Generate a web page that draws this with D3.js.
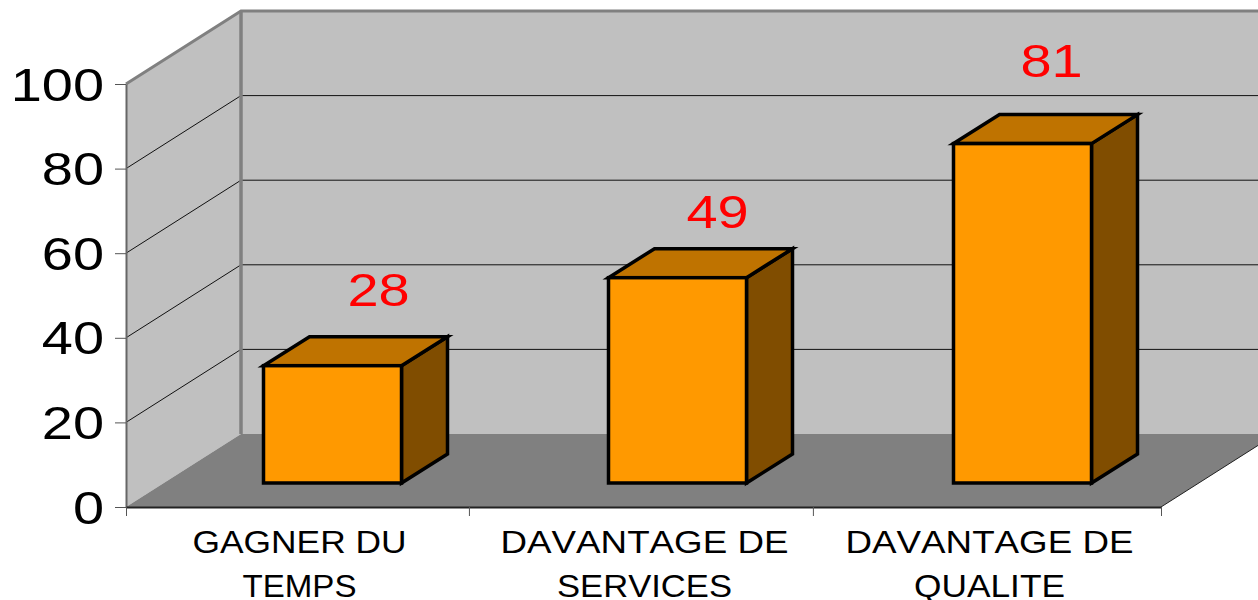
<!DOCTYPE html>
<html>
<head>
<meta charset="utf-8">
<script src="https://cdn.jsdelivr.net/npm/d3@7"></script>
<style>
    html, body { margin: 0; padding: 0; background: white; overflow: hidden; }
    svg { display: block; }
    text { font-family: "Liberation Sans", Arial, sans-serif; }
</style>
</head>
<body>
<svg id="chart"></svg>
<script>
const categories = ["GAGNER DU|TEMPS", "DAVANTAGE DE|SERVICES", "DAVANTAGE DE|QUALITE"];
const values = [28, 49, 81];
const yTicks = [0, 20, 40, 60, 80, 100];
const xEdgeTicks = [0, 0.994, 1.991, 3];

//label nudges, labels were moved by hand in the original
const labelDx = [46, 40, 29];
const labelDy = [-60, -50, -67];
//the original text is squeezed unevenly, so widths per line
const catLineWidths = [[214, 114], [288, 175], [288, 151]];

const width = 1258, height = 600;

//depth of the box (back wall offset) and of each bar
const depthX = 115, depthY = -73;
const barDepthX = 46, barDepthY = -29;

const svg = d3.select("#chart").attr("width", width).attr("height", height);

const y = d3.scaleLinear().domain([0, 100]).range([507, 84]);
const x = d3.scaleBand().domain(categories).range([126, 1161]);
const xEdges = d3.scaleLinear().domain([0, categories.length]).range([126, 1161]);
//bars stand in the middle of the floor, so they are moved back and scale a bit smaller
const yBar = d3.scaleLinear().domain([0, 100]).range([483, 64]);
const barW = x.bandwidth() * 0.4;
const barShift = 34;

const poly = pts => pts.map(p => p.join(",")).join(" ");

const x0 = x.range()[0], x1 = x.range()[1];

//side wall
svg.append("polygon")
    .attr("points", poly([[x0, y(0)], [x0, y(100)], [x0 + depthX, y(100) + depthY], [x0 + depthX, y(0) + depthY]]))
    .attr("fill", "#c0c0c0");

//back wall
svg.append("polygon")
    .attr("points", poly([[x0 + depthX, y(100) + depthY], [x1 + depthX, y(100) + depthY], [x1 + depthX, y(0) + depthY], [x0 + depthX, y(0) + depthY]]))
    .attr("fill", "#c0c0c0");

//floor
svg.append("polygon")
    .attr("points", poly([[x0, y(0)], [x0 + depthX, y(0) + depthY], [x1 + depthX, y(0) + depthY], [x1, y(0)]]))
    .attr("fill", "#808080");

//grid lines, side wall then back wall
const gridVals = yTicks.filter(d => d > 0 && d < 100);
svg.append("g").selectAll("polyline")
    .data(gridVals)
    .join("polyline")
    .attr("points", d => poly([[x0, y(d)], [x0 + depthX, y(d) + depthY], [x1 + depthX, y(d) + depthY]]))
    .attr("fill", "none")
    .attr("stroke", "#111")
    .attr("stroke-width", 1);

//wall edges
svg.append("polyline")
    .attr("points", poly([[x0, y(100)], [x0 + depthX, y(100) + depthY], [x1 + depthX, y(100) + depthY]]))
    .attr("fill", "none")
    .attr("stroke", "#808080")
    .attr("stroke-width", 3);
svg.append("line")
    .attr("x1", x0 + depthX).attr("x2", x0 + depthX)
    .attr("y1", y(100) + depthY).attr("y2", y(0) + depthY)
    .attr("stroke", "#808080")
    .attr("stroke-width", 3.5);

//floor right edge
svg.append("line")
    .attr("x1", x1).attr("y1", y(0))
    .attr("x2", x1 + depthX).attr("y2", y(0) + depthY)
    .attr("stroke", "#222")
    .attr("stroke-width", 1);

//y axis
const yAxis = svg.append("g")
    .attr("transform", `translate(${x0},0)`)
    .call(d3.axisLeft(y).tickValues(yTicks).tickSize(11).tickSizeOuter(0));
yAxis.select(".domain").attr("stroke", "#666").attr("stroke-width", 2);
yAxis.selectAll(".tick line").attr("stroke", "#555").attr("stroke-width", 1);
yAxis.selectAll(".tick text")
    .attr("x", null).attr("dy", null)
    .attr("text-anchor", "end")
    .attr("transform", "translate(-22,16) scale(1.19,1)")
    .style("font-size", "47px")
    .style("fill", "#000");

//x axis, ticks between the categories
const xAxis = svg.append("g")
    .attr("transform", `translate(0,${y(0)})`)
    .call(d3.axisBottom(xEdges)
        .tickValues(xEdgeTicks)
        .tickSize(9)
        .tickSizeOuter(0)
        .tickFormat(""));
xAxis.select(".domain").attr("stroke", "#222").attr("stroke-width", 2);
xAxis.selectAll(".tick line").attr("stroke", "#555").attr("stroke-width", 1);

//category labels on two lines
const catLabels = svg.append("g").selectAll("g")
    .data(categories)
    .join("g")
    .attr("transform", d => `translate(${x(d) + x.bandwidth() / 2 + 1},0)`);
catLabels.each(function (cat, c) {
    d3.select(this).selectAll("text")
        .data(cat.split("|"))
        .join("text")
        .attr("text-anchor", "middle")
        .attr("y", (d, i) => 553 + i * 43.5)
        .attr("textLength", (d, i) => catLineWidths[c][i])
        .attr("lengthAdjust", "spacingAndGlyphs")
        .style("font-size", "32px")
        .style("font-kerning", "none")
        .style("fill", "#000")
        .text(d => d);
});

//bars
const bars = svg.append("g").selectAll("g")
    .data(values)
    .join("g")
    .attr("stroke", "#000")
    .attr("stroke-width", 3.5)
    .attr("stroke-linejoin", "miter");

const barLeft = (d, i) => x(categories[i]) + x.bandwidth() / 2 + barShift - barW / 2;

bars.append("polygon") //side
    .attr("fill", "#804d00")
    .attr("points", (d, i) => {
        const r = barLeft(d, i) + barW;
        return poly([[r, yBar(0)], [r, yBar(d)], [r + barDepthX, yBar(d) + barDepthY], [r + barDepthX, yBar(0) + barDepthY]]);
    });
bars.append("polygon") //top
    .attr("fill", "#bf7300")
    .attr("points", (d, i) => {
        const l = barLeft(d, i);
        return poly([[l, yBar(d)], [l + barW, yBar(d)], [l + barW + barDepthX, yBar(d) + barDepthY], [l + barDepthX, yBar(d) + barDepthY]]);
    });
bars.append("rect") //front
    .attr("fill", "#ff9900")
    .attr("x", barLeft)
    .attr("y", d => yBar(d))
    .attr("width", barW)
    .attr("height", d => yBar(0) - yBar(d));

//value labels
svg.append("g").selectAll("text")
    .data(values)
    .join("text")
    .attr("text-anchor", "middle")
    .attr("transform", (d, i) => {
        const cx = barLeft(d, i) + barW / 2 + labelDx[i];
        return `translate(${cx},${yBar(d) + labelDy[i]}) scale(1.19,1)`;
    })
    .style("font-size", "47px")
    .style("fill", "#ff0000")
    .text(d => d);
</script>
</body>
</html>
